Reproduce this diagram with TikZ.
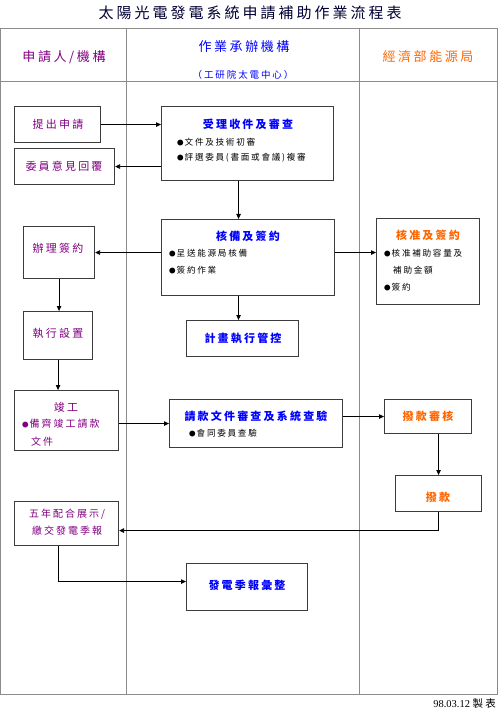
\documentclass[tikz,border=0pt]{standalone}
\usepackage{fontspec}
\setmainfont{Noto Sans CJK TC}
\newfontfamily\cj[LetterSpace=20]{Noto Sans CJK TC}
\newfontfamily\tnr{Liberation Serif}
\usetikzlibrary{arrows.meta}
\definecolor{purp}{RGB}{128,0,128}
\definecolor{orng}{RGB}{255,102,0}
\definecolor{blu}{RGB}{0,0,255}
\definecolor{grid}{RGB}{140,140,140}
\definecolor{boxc}{RGB}{60,60,60}
\newcommand\smallbul{{\fontsize{6.5}{7}\selectfont ●}\hspace{1pt}}
\tikzset{
  boxn/.style={draw=boxc, line width=1.1pt, anchor=north west, inner sep=0pt},
  arr/.style={draw=black, line width=0.8pt, -{Triangle[length=5pt,width=4.5pt]}},
  gridline/.style={draw=grid, line width=1pt},
  tx/.style={inner sep=0pt, font=\cj\fontsize{11}{13}\selectfont},
  pt/.style={tx, text=purp},
  bt/.style={tx, text=blu, font=\cj\bfseries\fontsize{11}{13}\selectfont},
  ot/.style={tx, text=orng, font=\cj\bfseries\fontsize{11}{13}\selectfont},
  bul/.style={inner sep=0pt, anchor=west, font=\cj\fontsize{8.6}{10}\selectfont},
}
\begin{document}
\begin{tikzpicture}[x=1pt,y=-1pt]
\useasboundingbox (0,0) rectangle (500,711);
% title
\node[inner sep=0pt, font=\cj\fontsize{15}{18}\selectfont, text=black!80!blue] (title) at (250,13) {太陽光電發電系統申請補助作業流程表};
% table
\draw[gridline] (0.5,29) rectangle (497,694);
\draw[gridline] (0.5,82) -- (497,82);
\draw[gridline] (126,29) -- (126,694);
\draw[gridline] (359,29) -- (359,694);
% headers
\node[tx, text=purp, font=\cj\fontsize{13}{15}\selectfont] (h1) at (64,57) {申請人/機構};
\node[tx, text=blu, font=\cj\fontsize{13}{15}\selectfont] (h2) at (244,47) {作業承辦機構};
\node[tx, text=blu, font=\cj\fontsize{9.5}{11}\selectfont] (h2b) at (243,75) {（工研院太電中心）};
\node[tx, text=orng, font=\cj\fontsize{13}{15}\selectfont] (h3) at (428,57) {經濟部能源局};
% boxes
\node[boxn, minimum width=86pt, minimum height=36pt] (apply) at (14,106) {};
\node[boxn, minimum width=100pt, minimum height=36pt] (reply) at (14,148) {};
\node[boxn, minimum width=172pt, minimum height=74pt] (accept) at (161,106) {};
\node[boxn, minimum width=173pt, minimum height=76pt] (sign) at (161,219) {};
\node[boxn, minimum width=71pt, minimum height=52pt] (dosign) at (23,226) {};
\node[boxn, minimum width=103pt, minimum height=86pt] (approve) at (376,218) {};
\node[boxn, minimum width=112pt, minimum height=36pt] (control) at (186,320) {};
\node[boxn, minimum width=69pt, minimum height=48pt] (install) at (23,311) {};
\node[boxn, minimum width=104pt, minimum height=60pt] (done) at (14,390) {};
\node[boxn, minimum width=173pt, minimum height=48pt] (claim) at (169,399) {};
\node[boxn, minimum width=87pt, minimum height=34pt] (review) at (384,399) {};
\node[boxn, minimum width=86pt, minimum height=36pt] (pay) at (395,475) {};
\node[boxn, minimum width=104pt, minimum height=44pt] (report) at (14,501) {};
\node[boxn, minimum width=121pt, minimum height=47pt] (summary) at (186,563) {};
% texts
\node[pt] (t1) at (58,124) {提出申請};
\node[pt] (t2) at (64,166) {委員意見回覆};
\node[bt] (t3) at (248,124) {受理收件及審查};
\node[bul] (t3a) at (177,142) {\smallbul 文件及技術初審};
\node[bul] (t3b) at (177,158) {\smallbul 評選委員(書面或會議)複審};
\node[bt] (t4) at (248,236) {核備及簽約};
\node[bul] (t4a) at (169,253) {\smallbul 呈送能源局核備};
\node[bul] (t4b) at (169,270) {\smallbul 簽約作業};
\node[pt] (t5) at (58,248) {辦理簽約};
\node[ot] (t6) at (428,235) {核准及簽約};
\node[bul] (t6a) at (384,253) {\smallbul 核准補助容量及};
\node[bul] (t6b) at (393,270) {補助金額};
\node[bul] (t6c) at (384,287) {\smallbul 簽約};
\node[bt] (t7) at (243,338) {計畫執行管控};
\node[pt] (t8) at (58,333) {執行設置};
\node[pt] (t9) at (66,407) {竣工};
\node[bul, text=purp, font=\cj\fontsize{10}{12}\selectfont] (t9a) at (22,424) {\smallbul 備齊竣工請款};
\node[bul, text=purp, font=\cj\fontsize{10}{12}\selectfont] (t9b) at (31,442) {文件};
\node[bt] (t10) at (256,416) {請款文件審查及系統查驗};
\node[bul] (t10a) at (189,433) {\smallbul 會同委員查驗};
\node[ot] (t11) at (428,416) {撥款審核};
\node[ot] (t12) at (438,497) {撥款};
\node[pt, font=\cj\fontsize{10}{12}\selectfont] (t13a) at (67,514) {五年配合展示/};
\node[pt, font=\cj\fontsize{10}{12}\selectfont] (t13b) at (67,531) {繳交發電季報};
\node[bt] (t14) at (247,585) {發電季報彙整};
\node[inner sep=0pt, anchor=east, font=\tnr\fontsize{10.5}{12}\selectfont] (foot) at (496,704) {98.03.12 {\cj 製表}};
% arrows
\draw[arr] (apply.east) -- (accept.west |- apply.east);
\draw[arr] (accept.west |- reply.east) -- (reply.east);
\draw[arr] ([xshift=-9pt]accept.south) -- ([xshift=-9pt]accept.south |- sign.north);
\draw[arr] (sign.west |- dosign.east) -- (dosign.east);
\draw[arr] (sign.east |- dosign.east) -- (approve.west |- dosign.east);
\draw[arr] ([xshift=-9.5pt]sign.south) -- ([xshift=-9.5pt]sign.south |- control.north);
\draw[arr] (dosign.south) -- (dosign.south |- install.north);
\draw[arr] (install.south) -- (install.south |- done.north);
\draw[arr] (claim.west -| done.east) -- (claim.west);
\draw[arr] (claim.east |- review.west) -- (review.west);
\draw[arr] (pay.north |- review.south) -- (pay.north);
\draw[arr] (pay.south) |- ([yshift=-7pt]report.east);
\draw[arr] ([xshift=-8pt]report.south) |- ([yshift=5.5pt]summary.west);
\end{tikzpicture}
\end{document}
